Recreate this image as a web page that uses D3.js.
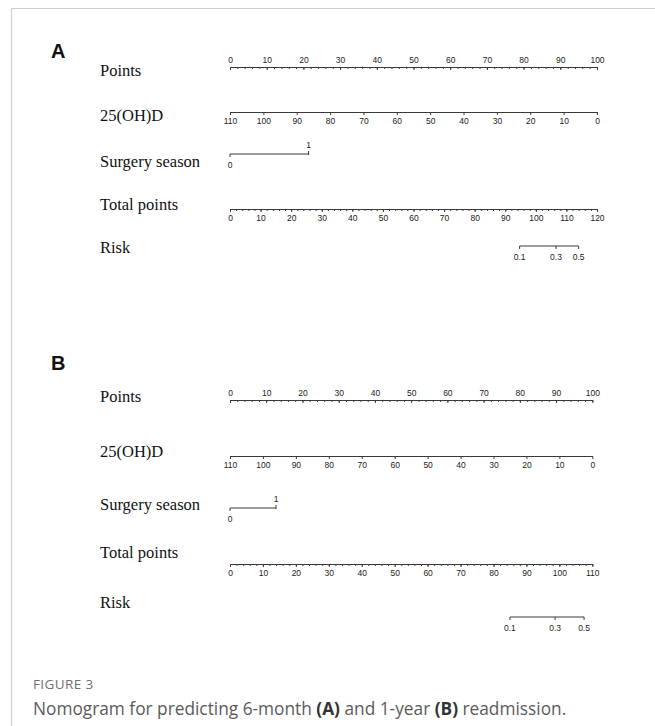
<!DOCTYPE html>
<html>
<head>
<meta charset="utf-8">
<script src="https://cdn.jsdelivr.net/npm/d3@7"></script>
<style>
  html, body { margin: 0; padding: 0; background: #fff; }
  svg { display: block; }
</style>
</head>
<body>
<script>
// ---- Nomogram data ----
const rowLabels = ["Points", "25(OH)D", "Surgery season", "Total points", "Risk"];

const pointsTicks = [0, 10, 20, 30, 40, 50, 60, 70, 80, 90, 100];
const vitdTicks = [110, 100, 90, 80, 70, 60, 50, 40, 30, 20, 10, 0];
const seasonLevels = ["0", "1"];
const riskTicks = [0.1, 0.3, 0.5];

// Panel A: 6-month readmission
const seasonPointsA = [0, 21.4];
const totalTicksA = [0, 10, 20, 30, 40, 50, 60, 70, 80, 90, 100, 110, 120];
const riskTotalA = [94.7, 106.6, 114.0];

// Panel B: 1-year readmission
const seasonPointsB = [0, 12.7];
const totalTicksB = [0, 10, 20, 30, 40, 50, 60, 70, 80, 90, 100, 110];
const riskTotalB = [85.0, 98.7, 107.5];

const W = 655, H = 726;
const svg = d3.select("body").append("svg").attr("width", W).attr("height", H);

// frame
svg.append("line").attr("x1", 11).attr("x2", W).attr("y1", 8.5).attr("y2", 8.5)
  .attr("stroke", "#cfcfcf").attr("stroke-width", 1.2);
svg.append("line").attr("x1", 11.5).attr("x2", 11.5).attr("y1", 8).attr("y2", H)
  .attr("stroke", "#cfcfcf").attr("stroke-width", 1.2);

const AXIS_COLOR = "#3a3a3a";
const TEXT_COLOR = "#222";
const tickFont = "'Liberation Sans', Arial, sans-serif";
const TICK_FS = 8.5;

function styleAxis(g) {
  g.attr("font-family", tickFont).attr("font-size", TICK_FS);
  g.selectAll("path.domain").attr("stroke", AXIS_COLOR).attr("stroke-width", 1);
  g.selectAll(".tick line").attr("stroke", AXIS_COLOR).attr("stroke-width", 1);
  g.selectAll(".tick text").attr("fill", TEXT_COLOR);
}

// draws a horizontal axis line with major (labelled) and minor ticks
function drawAxis(g, scale, y, major, minor, labelsAbove, fmt) {
  const grp = g.append("g").attr("transform", `translate(0,${y})`);
  if (minor) {
    const m = grp.append("g").call(
      d3.axisBottom(scale).tickValues(minor).tickSize(2).tickSizeOuter(0).tickFormat(""));
    m.select("path.domain").remove();
    styleAxis(m);
  }
  const a = grp.append("g").call(
    d3.axisBottom(scale).tickValues(major).tickSize(3).tickSizeOuter(0)
      .tickFormat(fmt || d3.format("d")));
  styleAxis(a);
  if (labelsAbove) {
    a.selectAll(".tick text").attr("y", -4).attr("dy", 0);
  } else {
    a.selectAll(".tick text").attr("y", 6).attr("dy", "0.71em");
  }
  return grp;
}

function drawPanel(cfg) {
  const g = svg.append("g");
  const x0 = 230, x1 = cfg.right;

  g.append("text").attr("x", 51).attr("y", cfg.letterY)
    .attr("font-family", "'Liberation Sans', Arial, sans-serif")
    .attr("font-weight", "bold").attr("font-size", 20).attr("fill", "#111")
    .text(cfg.letter);

  rowLabels.forEach((lab, i) => {
    g.append("text").attr("x", 100).attr("y", cfg.labelY[i])
      .attr("font-family", "'Liberation Serif', 'Times New Roman', serif")
      .attr("font-size", 16.5).attr("fill", "#111").text(lab);
  });

  const ptsScale = d3.scaleLinear().domain([0, 100]).range([x0, x1]);
  const vitdScale = d3.scaleLinear().domain([110, 0]).range([x0, x1]);
  const totMax = cfg.totalTicks[cfg.totalTicks.length - 1];
  const totScale = d3.scaleLinear().domain([0, totMax]).range([x0, x1]);

  // Points
  drawAxis(g, ptsScale, cfg.axisY[0], pointsTicks, d3.range(0, 101, 2), true);

  // 25(OH)D
  drawAxis(g, vitdScale, cfg.axisY[1], vitdTicks, null, false);

  // Surgery season (categorical, labels alternate below / above)
  const sy = cfg.axisY[2];
  const sg = g.append("g").attr("transform", `translate(0,${sy})`);
  sg.append("line")
    .attr("x1", ptsScale(cfg.seasonPoints[0])).attr("x2", ptsScale(cfg.seasonPoints[1]))
    .attr("y1", 0).attr("y2", 0).attr("stroke", AXIS_COLOR);
  seasonLevels.forEach((lv, i) => {
    const xx = ptsScale(cfg.seasonPoints[i]);
    const up = i % 2 === 1;
    sg.append("line").attr("x1", xx).attr("x2", xx)
      .attr("y1", up ? -3 : 0).attr("y2", up ? 1 : 3).attr("stroke", AXIS_COLOR);
    sg.append("text").attr("x", xx).attr("y", up ? -6 : 13.5)
      .attr("text-anchor", "middle")
      .attr("font-family", tickFont).attr("font-size", TICK_FS).attr("fill", TEXT_COLOR)
      .text(lv);
  });

  // Total points
  drawAxis(g, totScale, cfg.axisY[3], cfg.totalTicks, d3.range(0, totMax + 1, 2), false);

  // Risk, placed on the total-points scale
  const riskScale = d3.scaleOrdinal().domain(riskTicks)
    .range(cfg.riskTotal.map(v => totScale(v)));
  const ry = cfg.axisY[4];
  const rg = g.append("g").attr("transform", `translate(0,${ry})`);
  rg.append("line")
    .attr("x1", riskScale(riskTicks[0])).attr("x2", riskScale(riskTicks[riskTicks.length - 1]))
    .attr("y1", 0).attr("y2", 0).attr("stroke", AXIS_COLOR);
  riskTicks.forEach(t => {
    const xx = riskScale(t);
    rg.append("line").attr("x1", xx).attr("x2", xx).attr("y1", 0).attr("y2", 3)
      .attr("stroke", AXIS_COLOR);
    rg.append("text").attr("x", xx).attr("y", 13.5).attr("text-anchor", "middle")
      .attr("font-family", tickFont).attr("font-size", TICK_FS).attr("fill", TEXT_COLOR)
      .text(d3.format(".1f")(t));
  });
}

drawPanel({
  letter: "A", letterY: 58, right: 597,
  labelY: [76, 121, 167, 210, 253],
  axisY: [67, 112, 154, 209, 246],
  seasonPoints: seasonPointsA, totalTicks: totalTicksA, riskTotal: riskTotalA
});

drawPanel({
  letter: "B", letterY: 370, right: 592.3,
  labelY: [402, 457, 510, 558, 608],
  axisY: [400, 456, 508, 564, 617],
  seasonPoints: seasonPointsB, totalTicks: totalTicksB, riskTotal: riskTotalB
});

// caption
svg.append("text").attr("x", 33).attr("y", 689)
  .attr("font-family", "'Open Sans', sans-serif").attr("font-size", 13.5)
  .attr("fill", "#707070").attr("letter-spacing", 0.4)
  .text("FIGURE 3");

const cap = svg.append("text").attr("x", 33).attr("y", 715)
  .attr("font-family", "'Open Sans', sans-serif").attr("font-size", 17.3)
  .attr("fill", "#5a5a5a");
cap.append("tspan").text("Nomogram for predicting 6-month ");
cap.append("tspan").attr("font-weight", "bold").attr("fill", "#333").text("(A)");
cap.append("tspan").text(" and 1-year ");
cap.append("tspan").attr("font-weight", "bold").attr("fill", "#333").text("(B)");
cap.append("tspan").text(" readmission.");
</script>
</body>
</html>
